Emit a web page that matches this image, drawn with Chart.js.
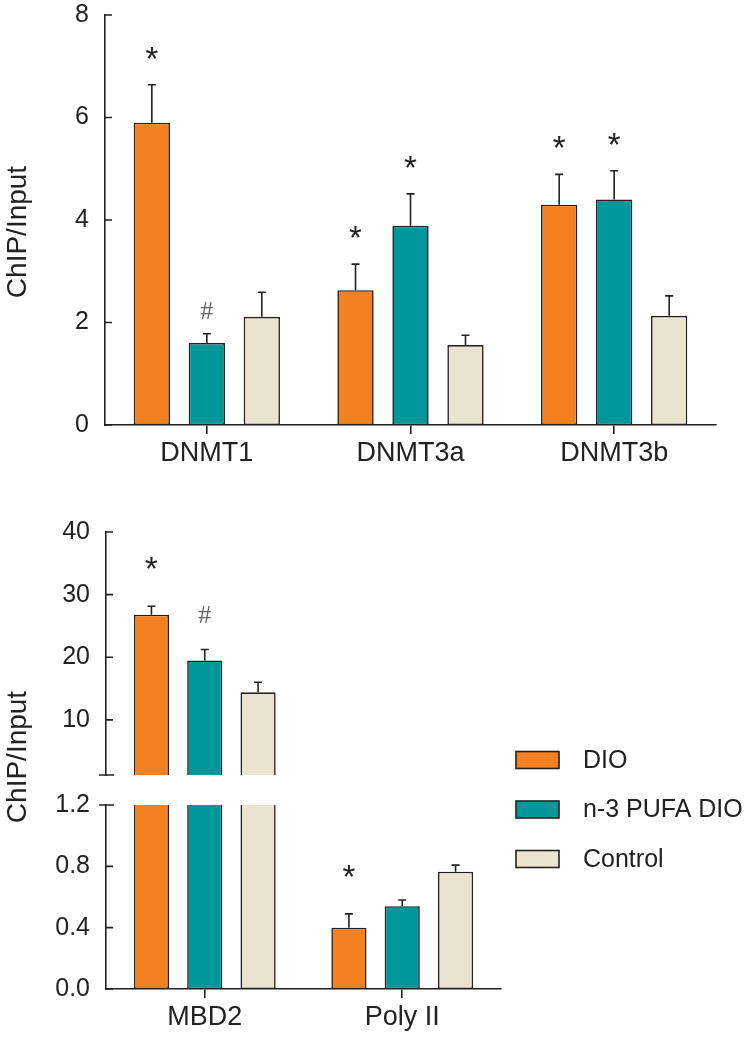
<!DOCTYPE html>
<html>
<head>
<meta charset="utf-8">
<title>ChIP/Input</title>
<script src="https://cdn.jsdelivr.net/npm/chart.js@4.4.1/dist/chart.umd.min.js"></script>
<style>
  html, body { margin: 0; padding: 0; background: #fff; }
  #wrap { position: relative; width: 749px; height: 1041px; }
  #wrap canvas { position: absolute; left: 0; top: 0; }
</style>
</head>
<body>
<div id="wrap">
  <canvas id="dnmtChart" width="749" height="1041"></canvas>
  <canvas id="upperChart" width="749" height="1041"></canvas>
  <canvas id="lowerChart" width="749" height="1041"></canvas>
</div>
<script>
// ============================================
// Data
// ============================================

const groups = ['DIO', 'n-3 PUFA DIO', 'Control'];
const groupColors = ['#F38021', '#00979A', '#EAE3CF'];

// Panel A - DNMTs
const dnmtLabels = ['DNMT1', 'DNMT3a', 'DNMT3b'];
const dnmtDIO = [5.90, 2.63, 4.30];
const dnmtPUFA = [1.60, 3.89, 4.40];
const dnmtControl = [2.11, 1.56, 2.13];
const dnmtErrDIO = [0.74, 0.51, 0.59];
const dnmtErrPUFA = [0.18, 0.62, 0.56];
const dnmtErrControl = [0.48, 0.19, 0.39];
const dnmtMarksDIO = ['*', '*', '*'];
const dnmtMarksPUFA = ['#', '*', '*'];
const dnmtMarksControl = ['', '', ''];
const dnmtTicks = [0, 2, 4, 6, 8];

// Panel B - MBD2 / Poly II (broken axis)
const otherLabels = ['MBD2', 'Poly II'];
const otherDIO = [26.8, 0.40];
const otherPUFA = [19.5, 0.54];
const otherControl = [14.4, 0.765];
const otherErrDIO = [1.34, 0.09];
const otherErrPUFA = [1.75, 0.04];
const otherErrControl = [1.6, 0.043];
const otherMarksDIO = ['*', '*'];
const otherMarksPUFA = ['#', ''];
const otherMarksControl = ['', ''];
const upperTicks = [10, 20, 30, 40];
const lowerTicks = [0, 0.4, 0.8, 1.2];
const axisBreak = 1.2;

// ============================================
// Styles
// ============================================

const INK = '#222';
const FONT = '"Liberation Sans", Arial, Helvetica, sans-serif';
const SERIF = '"Liberation Serif", "Times New Roman", serif';

// ============================================
// Plugins
// ============================================

/**
 * Error bars (upper half only), significance marks, inward ticks, axis break
 */
const barDecor = {
  id: 'barDecor',
  beforeDatasetsDraw(chart) {
    const { ctx, chartArea: a } = chart;
    ctx.save();
    ctx.beginPath();
    ctx.rect(a.left, a.top, a.right - a.left, a.bottom - a.top);
    ctx.clip();
  },
  afterDatasetsDraw(chart, args, opts) {
    const { ctx } = chart;
    const y = chart.scales.y;

    ctx.strokeStyle = INK;
    ctx.lineWidth = 1.6;
    chart.data.datasets.forEach((ds, i) => {
      chart.getDatasetMeta(i).data.forEach((bar, j) => {
        const top = y.getPixelForValue(ds.data[j] + ds.errors[j]);
        ctx.beginPath();
        ctx.moveTo(bar.x, y.getPixelForValue(ds.data[j]));
        ctx.lineTo(bar.x, top);
        ctx.moveTo(bar.x - 4, top);
        ctx.lineTo(bar.x + 4, top);
        ctx.stroke();
      });
    });
    ctx.restore();

    // significance marks, only where the error bar tip is on this scale
    ctx.save();
    ctx.textAlign = 'center';
    ctx.textBaseline = 'alphabetic';
    chart.data.datasets.forEach((ds, i) => {
      chart.getDatasetMeta(i).data.forEach((bar, j) => {
        const mark = ds.marks[j];
        const tip = ds.data[j] + ds.errors[j];
        if (!mark || tip < y.min || tip > y.max) return;
        const py = y.getPixelForValue(tip) - opts.markGap;
        if (mark === '#') {
          ctx.font = '26px ' + SERIF;
          ctx.fillStyle = '#666';
        } else {
          ctx.font = '33px ' + FONT;
          ctx.fillStyle = INK;
        }
        ctx.fillText(mark, bar.x, py);
      });
    });
    ctx.restore();
  },
  afterDraw(chart, args, opts) {
    const { ctx } = chart;
    const y = chart.scales.y;
    const x0 = chart.chartArea.left;
    ctx.save();
    ctx.strokeStyle = INK;
    ctx.lineWidth = 1.6;
    ctx.beginPath();
    y.ticks.forEach(t => {
      const py = y.getPixelForValue(t.value);
      ctx.moveTo(x0, py);
      ctx.lineTo(x0 + 7, py);
    });
    if (opts.breakAt !== undefined) {
      const py = y.getPixelForValue(opts.breakAt);
      ctx.moveTo(x0 - 7, py);
      ctx.lineTo(x0 + 8, py);
    }
    ctx.stroke();
    ctx.restore();
  }
};

/**
 * Rotated y-axis title at a fixed spot
 */
const sideTitle = {
  id: 'sideTitle',
  afterDraw(chart, args, opts) {
    if (!opts.text) return;
    const { ctx } = chart;
    ctx.save();
    ctx.translate(opts.x, opts.y);
    ctx.rotate(-Math.PI / 2);
    ctx.font = '28px ' + FONT;
    ctx.fillStyle = INK;
    ctx.textAlign = 'center';
    ctx.textBaseline = 'middle';
    ctx.fillText(opts.text, 0, 0);
    ctx.restore();
  }
};

/**
 * Simple box legend
 */
const boxLegend = {
  id: 'boxLegend',
  afterDraw(chart, args, opts) {
    if (!opts.show) return;
    const { ctx } = chart;
    ctx.save();
    ctx.font = '25px ' + FONT;
    ctx.textBaseline = 'middle';
    chart.data.datasets.forEach((ds, i) => {
      const cy = opts.y + i * opts.step;
      ctx.fillStyle = ds.backgroundColor;
      ctx.fillRect(opts.x, cy - 8.5, 43, 17);
      ctx.strokeStyle = INK;
      ctx.lineWidth = 1.6;
      ctx.strokeRect(opts.x, cy - 8.5, 43, 17);
      ctx.fillStyle = INK;
      ctx.fillText(ds.label, opts.x + 67, cy + 1);
    });
    ctx.restore();
  }
};

// ============================================
// Chart Builders
// ============================================

function makeDatasets(values, errors, marks) {
  return values.map((data, i) => ({
    label: groups[i],
    data: data,
    errors: errors[i],
    marks: marks[i],
    backgroundColor: groupColors[i],
    borderColor: INK,
    borderWidth: 1.6,
    borderSkipped: false,
    categoryPercentage: 0.81,
    barPercentage: 0.66
  }));
}

function yAxis(min, max, ticks, axisWidth, format) {
  return {
    min: min,
    max: max,
    afterBuildTicks: s => { s.ticks = ticks.map(value => ({ value })); },
    afterFit: s => {
      s.width = axisWidth;
      // let the layout padding alone decide where the plot starts
      s.paddingTop = 0;
      s.paddingBottom = 0;
    },
    grid: { display: false, drawTicks: false },
    border: { display: true, color: INK, width: 1.6 },
    ticks: {
      color: INK,
      padding: 16,
      font: { family: FONT, size: 25 },
      callback: format
    }
  };
}

function xAxis(show) {
  return {
    display: show,
    afterFit: s => { s.height = show ? 50 : 0; },
    grid: {
      display: true,
      drawOnChartArea: false,
      drawTicks: true,
      tickLength: 9,
      offset: false,
      color: INK,
      lineWidth: 1.6
    },
    border: { color: INK, width: 1.6 },
    ticks: { color: INK, padding: 3, font: { family: FONT, size: 27 } }
  };
}

function buildChart(canvasId, cfg) {
  return new Chart(document.getElementById(canvasId), {
    type: 'bar',
    data: { labels: cfg.labels, datasets: cfg.datasets },
    plugins: [barDecor, sideTitle, boxLegend],
    options: {
      responsive: false,
      animation: false,
      devicePixelRatio: 1,
      layout: { padding: cfg.padding },
      scales: { x: xAxis(cfg.showX), y: cfg.y },
      plugins: {
        legend: { display: false },
        tooltip: { enabled: false },
        barDecor: { markGap: cfg.markGap, breakAt: cfg.breakAt },
        sideTitle: cfg.title || {},
        boxLegend: cfg.legend || { show: false }
      }
    }
  });
}

// Panel A
buildChart('dnmtChart', {
  labels: dnmtLabels,
  datasets: makeDatasets(
    [dnmtDIO, dnmtPUFA, dnmtControl],
    [dnmtErrDIO, dnmtErrPUFA, dnmtErrControl],
    [dnmtMarksDIO, dnmtMarksPUFA, dnmtMarksControl]),
  showX: true,
  y: yAxis(0, 8, dnmtTicks, 105, v => v),
  padding: { left: 0, right: 33, top: 15, bottom: 566 },
  markGap: 15,
  title: { text: 'ChIP/Input', x: 18, y: 232 }
});

// Panel B - upper segment of the broken axis
buildChart('upperChart', {
  labels: otherLabels,
  datasets: makeDatasets(
    [otherDIO, otherPUFA, otherControl],
    [otherErrDIO, otherErrPUFA, otherErrControl],
    [otherMarksDIO, otherMarksPUFA, otherMarksControl]),
  showX: false,
  y: yAxis(axisBreak, 40, upperTicks, 106, v => v),
  padding: { left: 0, right: 248, top: 532, bottom: 266 },
  markGap: 26,
  breakAt: axisBreak
});

// Panel B - lower segment, x axis and legend
buildChart('lowerChart', {
  labels: otherLabels,
  datasets: makeDatasets(
    [otherDIO, otherPUFA, otherControl],
    [otherErrDIO, otherErrPUFA, otherErrControl],
    [otherMarksDIO, otherMarksPUFA, otherMarksControl]),
  showX: true,
  y: yAxis(0, axisBreak, lowerTicks, 106, v => Number(v).toFixed(1)),
  padding: { left: 0, right: 248, top: 805, bottom: 2 },
  markGap: 26,
  breakAt: axisBreak,
  title: { text: 'ChIP/Input', x: 18, y: 757 },
  legend: { show: true, x: 516, y: 760, step: 49.5 }
});
</script>
</body>
</html>
